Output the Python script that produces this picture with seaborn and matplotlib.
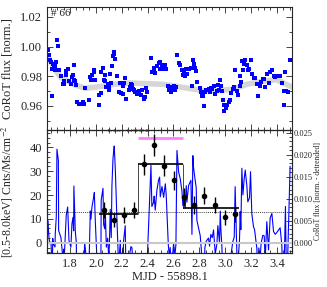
import numpy as np
import pandas as pd
import seaborn as sns
import matplotlib
matplotlib.use("Agg")
import matplotlib.pyplot as plt
from matplotlib.ticker import MultipleLocator, FormatStrFormatter

# CoRoT light curve (top panel)
corot_time = [
    1.630, 1.635, 1.643, 1.653, 1.658, 1.661, 1.666, 1.674, 1.684, 1.686,
    1.694, 1.699, 1.710, 1.712, 1.730, 1.746, 1.751, 1.756, 1.766, 1.771,
    1.782, 1.792, 1.807, 1.815, 1.823, 1.828, 1.830, 1.841, 1.849, 1.851,
    1.872, 1.890, 1.898, 1.905, 1.913, 1.944, 1.957, 1.962, 1.970, 1.983,
    1.988, 1.996, 2.021, 2.026, 2.039, 2.041, 2.055, 2.060, 2.068, 2.073,
    2.081, 2.091, 2.099, 2.104, 2.111, 2.119, 2.124, 2.132, 2.137, 2.142,
    2.150, 2.163, 2.176, 2.189, 2.194, 2.207, 2.209, 2.214, 2.227, 2.235,
    2.253, 2.261, 2.271, 2.279, 2.284, 2.297, 2.305, 2.318, 2.330, 2.351,
    2.356, 2.369, 2.382, 2.390, 2.395, 2.426, 2.433, 2.446, 2.451, 2.459,
    2.472, 2.485, 2.493, 2.498, 2.511, 2.524, 2.537, 2.544, 2.560, 2.567,
    2.575, 2.580, 2.588, 2.596, 2.601, 2.611, 2.619, 2.627, 2.640, 2.652,
    2.665, 2.673, 2.683, 2.691, 2.699, 2.704, 2.717, 2.735, 2.743, 2.750,
    2.755, 2.766, 2.776, 2.781, 2.807, 2.815, 2.820, 2.828, 2.833, 2.843,
    2.853, 2.871, 2.879, 2.889, 2.900, 2.910, 2.923, 2.936, 2.943, 2.956,
    2.962, 2.967, 2.974, 2.980, 2.987, 2.992, 3.005, 3.013, 3.026, 3.039,
    3.046, 3.059, 3.070, 3.077, 3.090, 3.098, 3.111, 3.116, 3.121, 3.129,
    3.137, 3.147, 3.155, 3.168, 3.175, 3.188, 3.196, 3.206, 3.219, 3.227,
    3.245, 3.250, 3.260, 3.271, 3.278, 3.291, 3.302, 3.309, 3.322, 3.335,
    3.348, 3.361, 3.374, 3.387, 3.399, 3.425, 3.438, 3.451, 3.456, 3.466,
    3.472, 3.482, 3.502,
]
corot_flux = [
    0.9979, 0.9941, 0.9907, 0.9896, 0.9851, 0.9667, 0.9885, 0.9858, 0.9840, 0.9867,
    0.9896, 1.0042, 1.0002, 0.9840, 0.9804, 0.9746, 0.9768, 0.9750, 0.9806, 0.9836,
    0.9849, 0.9768, 0.9746, 0.9795, 0.9806, 0.9773, 0.9874, 0.9768, 0.9739, 0.9629,
    0.9611, 0.9615, 0.9629, 0.9615, 0.9721, 0.9638, 0.9795, 0.9777, 0.9806, 0.9829,
    0.9840, 0.9773, 0.9606, 0.9671, 0.9687, 0.9829, 0.9858, 0.9777, 0.9768, 0.9806,
    0.9728, 0.9750, 0.9710, 0.9732, 0.9818, 0.9755, 0.9872, 0.9934, 0.9952, 0.9966,
    0.9916, 0.9800, 0.9694, 0.9755, 0.9687, 0.9734, 0.9683, 0.9755, 0.9791, 0.9647,
    0.9705, 0.9728, 0.9746, 0.9743, 0.9716, 0.9705, 0.9694, 0.9678, 0.9701, 0.9674,
    0.9710, 0.9649, 0.9660, 0.9723, 0.9694, 0.9925, 0.9831, 0.9840, 0.9854, 0.9822,
    0.9867, 0.9890, 0.9896, 0.9851, 0.9874, 0.9849, 0.9878, 0.9851, 0.9737, 0.9710,
    0.9728, 0.9694, 0.9705, 0.9716, 0.9734, 0.9705, 0.9728, 0.9941, 0.9890, 0.9874,
    0.9845, 0.9809, 0.9822, 0.9802, 0.9851, 0.9813, 0.9849, 0.9858, 0.9734, 0.9912,
    0.9885, 0.9858, 0.9836, 0.9761, 0.9723, 0.9692, 0.9665, 0.9669, 0.9602, 0.9692,
    0.9705, 0.9712, 0.9694, 0.9721, 0.9714, 0.9732, 0.9678, 0.9701, 0.9743, 0.9705,
    0.9777, 0.9734, 0.9701, 0.9638, 0.9604, 0.9566, 0.9586, 0.9604, 0.9627, 0.9638,
    0.9687, 0.9716, 0.9728, 0.9845, 0.9701, 0.9671, 0.9737, 0.9800, 0.9761, 0.9903,
    0.9845, 0.9885, 0.9907, 0.9874, 0.9840, 0.9851, 0.9912, 0.9818, 0.9791, 0.9786,
    0.9746, 0.9669, 0.9750, 0.9732, 0.9764, 0.9784, 0.9784, 0.9728, 0.9818, 0.9755,
    0.9829, 0.9840, 0.9800, 0.9795, 0.9800, 0.9800, 0.9755, 0.9604, 0.9701, 0.9831,
    0.9701, 0.9694, 0.9907,
]

# smooth trend (grey curve)
trend_time = [1.622, 1.674, 1.725, 1.828, 1.918, 2.008, 2.137, 2.266, 2.395, 2.524,
              2.652, 2.781, 2.859, 2.962, 3.065, 3.168, 3.296, 3.399, 3.515]
trend_flux = [0.9941, 0.9863, 0.9795, 0.9746, 0.9719, 0.9728, 0.9746, 0.9755, 0.9750, 0.9746,
              0.9728, 0.9710, 0.9701, 0.9705, 0.9714, 0.9746, 0.9768, 0.9777, 0.9728]

# X-ray light curve (bottom panel)
xray_time = [2.060, 2.137, 2.217, 2.294, 2.372, 2.449, 2.526, 2.603, 2.683, 2.760,
             2.838, 2.918, 2.997, 3.077]
xray_rate = [13.7, 9.4, 11.5, 13.7, 32.9, 41.0, 32.3, 26.3, 19.3, 15.8,
             19.7, 15.8, 10.6, 12.0]
xray_err = [3.4, 3.0, 3.3, 3.3, 4.3, 4.5, 4.3, 4.0, 3.8, 3.6, 3.6, 3.3, 3.0, 3.1]

# Bayesian blocks
block_edges = [2.026, 2.328, 2.675, 3.108]
block_rates = [11.9, 33.0, 14.7]
quiescent_level = 12.7
flare_span = [2.325, 2.675]
flare_marker_y = 44.0
flare_text = r"E$_{fl}$/L$_{pk,fl}$=1.454/0.048"

sns.set_theme(style="ticks")
plt.rcParams['font.family'] = ['Liberation Serif', 'DejaVu Serif']
plt.rcParams['mathtext.fontset'] = 'stix'

lc = pd.DataFrame({'t': corot_time, 'flux': corot_flux})
lc['detrended'] = lc['flux'] - np.interp(lc['t'], trend_time, trend_flux)
tr = pd.DataFrame({'t': trend_time, 'flux': trend_flux})

fig = plt.figure(figsize=(3.27, 2.87), dpi=100)
ax1 = fig.add_axes([0.1437, 0.547, 0.749, 0.4286])
ax2 = fig.add_axes([0.1437, 0.1185, 0.749, 0.4286])

# top panel
sns.lineplot(data=tr, x='t', y='flux', ax=ax1, color='#d6d6d6', lw=4, zorder=1)
sns.scatterplot(data=lc, x='t', y='flux', ax=ax1, color='blue', marker='s', s=6.5,
                linewidth=0, zorder=2)
ax1.set_xlim(1.622, 3.516)
ax1.set_ylim(0.9438, 1.0267)
ax1.yaxis.set_major_locator(MultipleLocator(0.02))
ax1.yaxis.set_minor_locator(MultipleLocator(0.01))
ax1.yaxis.set_major_formatter(FormatStrFormatter('%.2f'))
ax1.xaxis.set_major_locator(MultipleLocator(0.2))
ax1.xaxis.set_minor_locator(MultipleLocator(0.05))
ax1.set_xticklabels([])
ax1.set_xlabel('')
ax1.set_ylabel('CoRoT flux [norm.]', fontsize=9)
ax1.yaxis.set_label_coords(-0.135, 0.5)
ax1.text(0.015, 0.985, '# 66', transform=ax1.transAxes, fontsize=8, va='top', ha='left')
ax1.tick_params(which='both', direction='in', top=True, right=True, labelsize=9, width=0.6)
ax1.tick_params(which='major', length=4)
ax1.tick_params(which='minor', length=2)

# bottom panel
ax3 = ax2.twinx()
sns.lineplot(data=lc, x='t', y='detrended', ax=ax3, color='blue', lw=0.8,
             estimator=None, sort=False, zorder=2)
ax3.set_ylim(-0.00234, 0.0256)
ax3.yaxis.set_major_locator(MultipleLocator(0.005))
ax3.yaxis.set_minor_locator(MultipleLocator(0.001))
ax3.yaxis.set_major_formatter(FormatStrFormatter('%.3f'))
ax3.set_ylabel('CoRoT flux [norm. - detrended]', fontsize=5.5, labelpad=1)
ax3.tick_params(which='both', direction='in', labelsize=6, width=0.6, pad=1)
ax3.tick_params(which='major', length=4)
ax3.tick_params(which='minor', length=2)

ax2.set_zorder(ax3.get_zorder() + 1)
ax2.patch.set_visible(False)
ax2.axhline(0, color='#c8c8c8', lw=1.5, zorder=1)
ax2.axhline(quiescent_level, color='black', lw=0.5, ls=(0, (1.5, 1.5)), zorder=1)
for i, r in enumerate(block_rates):
    ax2.hlines(r, block_edges[i], block_edges[i + 1], color='black', lw=1.2, zorder=3)
for i in range(1, len(block_rates)):
    ax2.vlines(block_edges[i], block_rates[i - 1], block_rates[i], color='black', lw=0.5, zorder=3)
ax2.errorbar(xray_time, xray_rate, yerr=xray_err, fmt='o', color='black', ms=3,
             elinewidth=1.0, capsize=0, zorder=4)
ax2.hlines(flare_marker_y, flare_span[0], flare_span[1], color='#ff80ff', lw=2, zorder=3)
ax2.text(2.256, 46.3, flare_text, fontsize=3.5, ha='center', va='center', zorder=5)

ax2.set_xlim(1.622, 3.516)
ax2.set_ylim(-4.3, 47.3)
ax2.yaxis.set_major_locator(MultipleLocator(10))
ax2.yaxis.set_minor_locator(MultipleLocator(2))
ax2.xaxis.set_major_locator(MultipleLocator(0.2))
ax2.xaxis.set_minor_locator(MultipleLocator(0.05))
ax2.xaxis.set_major_formatter(FormatStrFormatter('%.1f'))
ax2.tick_params(which='both', direction='in', top=True, labelsize=9, width=0.6)
ax2.tick_params(which='major', length=4)
ax2.tick_params(which='minor', length=2)
ax2.set_xlabel('MJD - 55898.1', fontsize=9, labelpad=1)
ax2.set_ylabel(r'[0.5-8.0keV] Cnts/Ms/cm$^{-2}$', fontsize=8.5)
ax2.yaxis.set_label_coords(-0.13, 0.5)

for a in (ax1, ax2, ax3):
    for s in a.spines.values():
        s.set_linewidth(0.8)

fig.savefig('out.png', dpi=100)
